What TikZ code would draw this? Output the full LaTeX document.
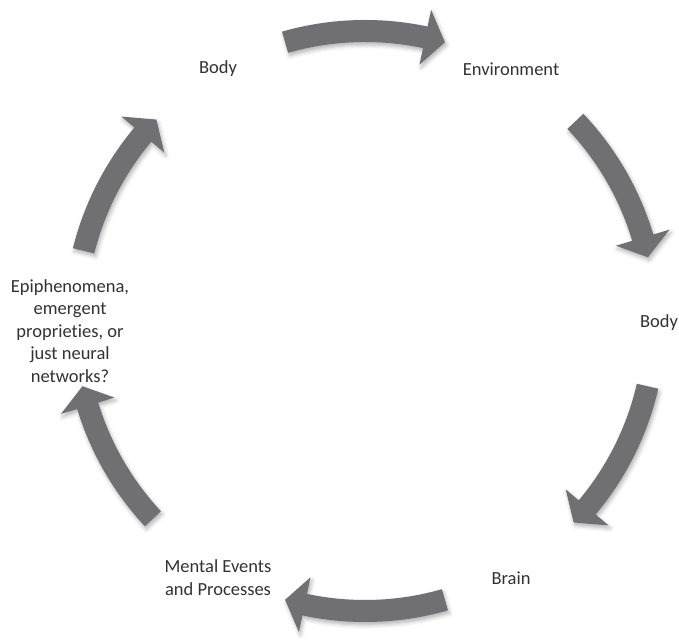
\documentclass[tikz,border=0pt]{standalone}
\usepackage{fontspec}
\setmainfont{Carlito}[Ligatures=NoCommon]
\usetikzlibrary{calc,shadows.blur}
\definecolor{arrowgray}{RGB}{112,112,114}
\definecolor{textgray}{RGB}{50,50,50}
\newcommand\cycarrow[2]{%
  \fill[arrowbody] (#1:301) arc[start angle=#1, end angle={#2+4}, radius=301]
    -- ({#2+4}:318) -- (#2:290) -- ({#2+4}:262) -- ({#2+4}:279)
    arc[start angle={#2+4}, end angle=#1, radius=279] -- cycle;}
\begin{document}
\begin{tikzpicture}[x=1pt,y=1pt,
  arrowbody/.style={fill=arrowgray, blur shadow={shadow xshift=1.5pt, shadow yshift=-3pt, shadow blur radius=4pt, shadow opacity=30}},
  lbl/.style={text=textgray, font=\fontsize{18.5}{22.5}\selectfont, inner sep=0pt, align=center}]
\useasboundingbox (0,0) rectangle (679,639);
\begin{scope}[shift={(365,318)}]
  \cycarrow{106}{74}
  \cycarrow{43.5}{12.7}
  \cycarrow{-13}{-44}
  \cycarrow{-74}{-106}
  \cycarrow{223}{193}
  \cycarrow{166}{136}
\end{scope}
\node[lbl] (body1) at (218,570) {Body};
\node[lbl] (env) at (511,570) {Environment};
\node[lbl] (body2) at (659,316) {Body};
\node[lbl] (brain) at (511,61) {Brain};
\node[lbl] (mental) at (218,61.5) {Mental Events\\and Processes};
\node[lbl] (epi) at (70,308) {Epiphenomena,\\emergent\\proprieties, or\\just neural\\networks?};
\end{tikzpicture}
\end{document}
